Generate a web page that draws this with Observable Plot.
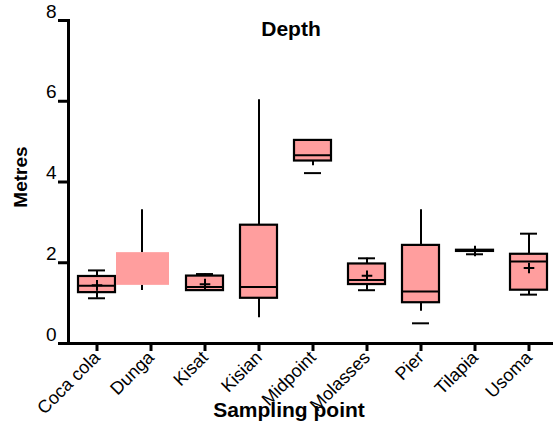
<!DOCTYPE html>
<html>
<head>
<meta charset="utf-8">
<script src="https://cdn.jsdelivr.net/npm/d3@7"></script>
<script src="https://cdn.jsdelivr.net/npm/@observablehq/plot@0.6"></script>
<style>
  html, body { margin: 0; padding: 0; background: white; }
</style>
</head>
<body>
<div id="chart"></div>
<script>
const categories = ["Coca cola", "Dunga", "Kisat", "Kisian", "Midpoint", "Molasses", "Pier", "Tilapia", "Usoma"];
const q1          = [1.26, 1.44, 1.31, 1.12, 4.52, 1.46, 1.01, 2.28, 1.32];
const median      = [1.43, null, 1.40, 1.40, 4.66, 1.57, 1.29, 2.30, 2.03];
const q3          = [1.66, 2.25, 1.67, 2.93, 5.03, 1.97, 2.43, 2.31, 2.21];
const whiskerLow  = [1.12, 1.31, null, 0.64, 4.40, 1.32, 0.80, 2.21, 1.21];
const whiskerHigh = [1.81, 3.31, 1.72, 6.04, null, 2.11, 3.31, null, 2.72];
const capLow      = [1.12, null, null, null, 4.22, 1.32, 0.50, 2.21, 1.21];
const capHigh     = [1.81, null, 1.72, null, null, 2.11, null, null, 2.72];
const mean        = [1.44, null, 1.47, null, null, 1.68, null, 2.29, 1.87];
const yTicks = [0, 2, 4, 6, 8];

const rows = categories.map((cat, i) => ({
  cat, q1: q1[i], median: median[i], q3: q3[i],
  lo: whiskerLow[i], hi: whiskerHigh[i],
  capLo: capLow[i], capHi: capHigh[i], mean: mean[i]
}));
const framed = rows.filter(d => d.cat !== "Dunga");
const plain = rows.filter(d => d.cat === "Dunga");

const fillColor = "#ff9e9e";

const chart = Plot.plot({
  width: 553,
  height: 428,
  marginTop: 20,
  marginBottom: 85,
  marginLeft: 68,
  marginRight: 0,
  style: { fontFamily: "'Liberation Sans', Arial, sans-serif", background: "white", color: "black" },
  x: { type: "band", domain: categories, range: [68, 556], paddingInner: 0.32, paddingOuter: 0.16, label: null },
  y: { domain: [0, 8], label: null },
  marks: [
    // whiskers
    Plot.ruleX(framed.filter(d => d.hi != null), { x: "cat", y1: "q3", y2: "hi", strokeWidth: 2 }),
    Plot.ruleX(framed.filter(d => d.lo != null), { x: "cat", y1: "q1", y2: "lo", strokeWidth: 2 }),
    Plot.ruleX(plain, { x: "cat", y1: "q3", y2: "hi", strokeWidth: 2, dx: -9 }),
    Plot.ruleX(plain, { x: "cat", y1: "q1", y2: "lo", strokeWidth: 2, dx: -9 }),
    // caps
    Plot.tickY(rows.filter(d => d.capHi != null), { x: "cat", y: "capHi", strokeWidth: 2, insetLeft: 10, insetRight: 10 }),
    Plot.tickY(rows.filter(d => d.capLo != null), { x: "cat", y: "capLo", strokeWidth: 2, insetLeft: 10, insetRight: 10 }),
    // boxes
    Plot.barY(framed, { x: "cat", y1: "q1", y2: "q3", fill: fillColor, stroke: "black", strokeWidth: 2.2 }),
    Plot.barY(plain, { x: "cat", y1: "q1", y2: "q3", fill: fillColor, insetLeft: -16, insetRight: 0 }),
    // medians
    Plot.tickY(framed.filter(d => d.median != null), { x: "cat", y: "median", strokeWidth: 2 }),
    // means
    Plot.dot(rows.filter(d => d.mean != null), { x: "cat", y: "mean", symbol: "plus", r: 3.5, stroke: "black", strokeWidth: 2 }),
    // axes
    Plot.axisY({ ticks: yTicks, tickSize: 10, strokeWidth: 3, tickFormat: () => "", label: null }),
    Plot.axisY({ ticks: yTicks, tickSize: 0, tickPadding: 12, dy: -9, fontSize: 19, label: null }),
    Plot.axisX({ tickSize: 8, strokeWidth: 3, tickRotate: -45, tickPadding: 3, fontSize: 18, label: null }),
    Plot.frame({ anchor: "left", strokeWidth: 3 }),
    Plot.ruleY([0], { strokeWidth: 3, insetLeft: -10 }),
    // titles
    Plot.text(["Depth"], { frameAnchor: "top", lineAnchor: "middle", dx: -20, dy: 9, fontSize: 21, fontWeight: "bold" }),
    Plot.text(["Sampling point"], { frameAnchor: "bottom", lineAnchor: "middle", dx: -22, dy: 67, fontSize: 21, fontWeight: "bold" }),
    Plot.text(["Metres"], { frameAnchor: "left", textAnchor: "middle", lineAnchor: "middle", rotate: -90, dx: -48, dy: -5, fontSize: 19, fontWeight: "bold" })
  ]
});
document.getElementById("chart").appendChild(chart);
</script>
</body>
</html>
